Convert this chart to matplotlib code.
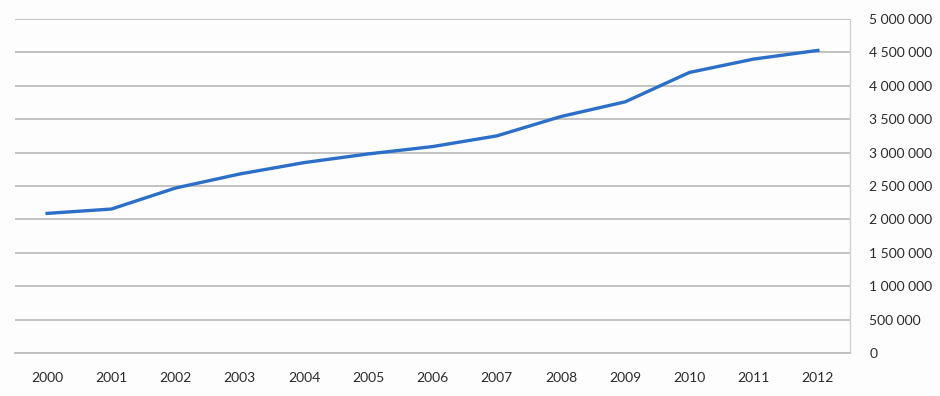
import matplotlib.pyplot as plt
from matplotlib.ticker import FuncFormatter

years = ['2000', '2001', '2002', '2003', '2004', '2005', '2006',
         '2007', '2008', '2009', '2010', '2011', '2012']
values = [2090000, 2155000, 2470000, 2680000, 2850000, 2980000, 3090000,
          3250000, 3540000, 3760000, 4200000, 4400000, 4530000]
y_ticks = [0, 500000, 1000000, 1500000, 2000000, 2500000,
           3000000, 3500000, 4000000, 4500000, 5000000]

plt.rcParams['font.family'] = ['Lato', 'DejaVu Sans']

fig = plt.figure(figsize=(9.4, 3.96), dpi=100)
fig.patch.set_facecolor('#fdfdfd')
ax = fig.add_axes([15 / 940, 43 / 396, 835 / 940, 334 / 396])
ax.set_facecolor('#fdfdfd')

x = list(range(len(years)))
ax.plot(x, values, color='#2b6fc8', linewidth=2.4, zorder=3)

ax.set_xlim(-0.5, len(years) - 0.5)
ax.set_ylim(0, 5000000)
ax.set_xticks(x)
ax.set_xticklabels(years)
ax.set_yticks(y_ticks)
ax.yaxis.set_major_formatter(FuncFormatter(lambda v, p: f"{int(v):,}".replace(",", " ")))
ax.yaxis.tick_right()

ax.grid(axis='y', color='#bdbdbd', linewidth=1.3, zorder=1)
ax.tick_params(axis='both', length=0, labelsize=10, colors='#2a2a2a')
ax.tick_params(axis='y', pad=14)
ax.tick_params(axis='x', pad=14)
for lab in ax.get_yticklabels():
    lab.set_horizontalalignment('left')

ax.spines['top'].set_visible(False)
ax.spines['left'].set_visible(False)
ax.spines['bottom'].set_color('#bdbdbd')
ax.spines['bottom'].set_linewidth(1.3)
ax.spines['right'].set_color('#d0d0d0')
ax.spines['right'].set_linewidth(1.0)

fig.savefig('out.png', dpi=100, facecolor=fig.get_facecolor())
